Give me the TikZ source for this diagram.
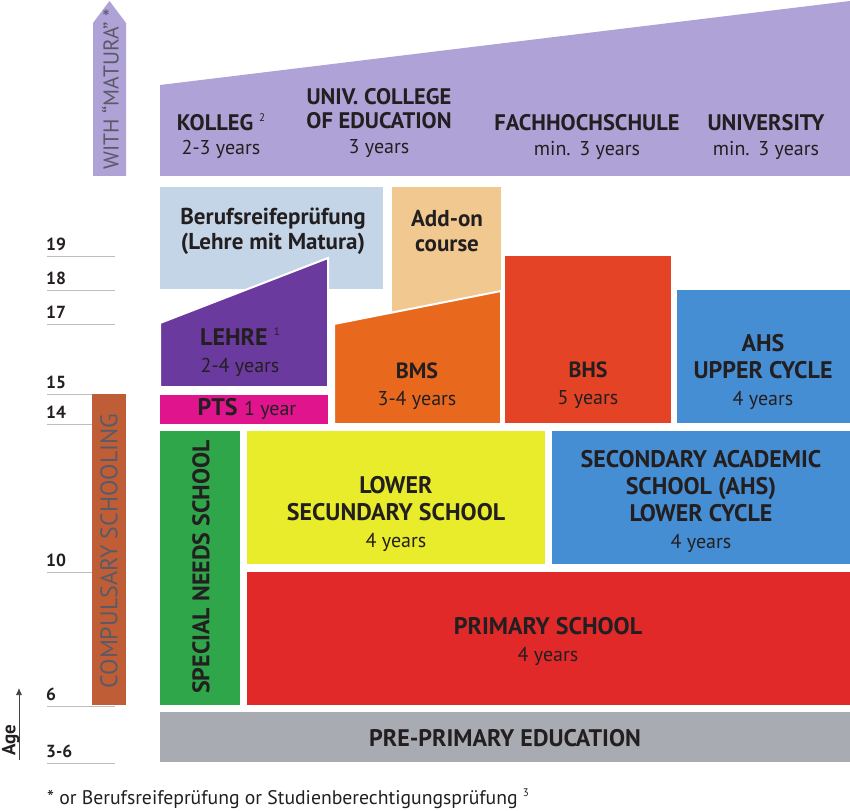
\documentclass[tikz,border=0pt]{standalone}
\usepackage{fontspec}
\setmainfont{PT Sans}
\usetikzlibrary{arrows.meta}
\definecolor{lav}{HTML}{AEA2D7}
\definecolor{lblue}{HTML}{C4D5E7}
\definecolor{addon}{HTML}{F1C88F}
\definecolor{purp}{HTML}{6B3A9E}
\definecolor{mag}{HTML}{E0158D}
\definecolor{orng}{HTML}{E8691E}
\definecolor{bhsred}{HTML}{E44326}
\definecolor{ahsblue}{HTML}{468ED4}
\definecolor{grn}{HTML}{2FA64A}
\definecolor{yel}{HTML}{E9EC2B}
\definecolor{pred}{HTML}{E1292A}
\definecolor{gry}{HTML}{A9ABB3}
\definecolor{comp}{HTML}{BF5E36}
\definecolor{txt}{HTML}{231F20}
\definecolor{rottxt}{HTML}{5A5A66}
\definecolor{tick}{HTML}{BDBDBD}
\newcommand{\hd}{\bfseries\fontsize{24}{27}\selectfont}
\newcommand{\hdt}{\bfseries\fontsize{22.5}{25}\selectfont}
\newcommand{\hdm}{\bfseries\fontsize{22}{26}\selectfont}
\newcommand{\lc}{\bfseries\fontsize{23}{25}\selectfont}
\newcommand{\yr}{\mdseries\fontsize{20}{26}\selectfont}
\newcommand{\supr}[1]{\raisebox{0.8ex}{\mdseries\fontsize{11}{11}\selectfont #1}}
\begin{document}
\begin{tikzpicture}[x=1pt,y=-1pt,
  lbl/.style={align=center,text=txt,inner sep=0pt,font=\fontsize{24}{27}\selectfont},
  lblt/.style={align=center,text=txt,inner sep=0pt,font=\fontsize{22.5}{24.5}\selectfont},
  rot/.style={rotate=90,inner sep=0pt},
  agel/.style={anchor=base west,inner sep=0pt,text=txt,font=\bfseries\fontsize{17.5}{18}\selectfont},
  tk/.style={draw=tick,line width=0.8pt},
  cut/.style={draw=white,line width=2pt}]
\useasboundingbox (0,0) rectangle (850,810);
% age ticks
\foreach \yy/\lab/\nm in {256/19/a19,290/18/a18,324/17/a17,394/15/a15,424/14/a14,572/10/a10,706/6/a6,763/3-6/a36}{
  \coordinate (t\nm) at (47,\yy);
  \coordinate (u\nm) at (115,\yy);
  \draw[tk] (t\nm) -- (u\nm);
  \node[agel] (l\nm) at (46,\yy-5.5) {\lab};
}
% Age arrow
\coordinate (agebot) at (19,760);
\coordinate (agetop) at (19,688);
\draw[draw=black!75,line width=0.7pt,-{Latex[length=7pt,width=6pt]}] (agebot) -- (agetop);
\node[rotate=90,anchor=base,inner sep=0pt,text=txt,font=\bfseries\fontsize{19}{20}\selectfont] (age) at (15.5,740) {Age};
% WITH MATURA arrow
\fill[lav] (93,176) -- (93,23) -- (109.5,1) -- (126,23) -- (126,176) -- cycle;
\node[rot,text=rottxt,font=\fontsize{21.5}{24}\selectfont] (matura) at (110.5,89) {WITH “MATURA” *};
% compulsory
\fill[comp] (92,394) rectangle (126,705);
\node[rot,text=rottxt,font=\fontsize{24}{26}\selectfont] (compul) at (109,551) {COMPULSARY SCHOOLING};
% higher education
\fill[lav] (160,176) -- (160,85) -- (850,1) -- (850,176) -- cycle;
\node[lblt] (kolleg) at (221,136) {{\hdt KOLLEG \supr{2}}\\{\yr 2-3 years}};
\node[lblt] (univcol) at (379,123) {{\hdt UNIV. COLLEGE}\\{\hdt OF EDUCATION}\\{\yr 3 years}};
\node[lblt] (fh) at (587,137) {{\hdt FACHHOCHSCHULE}\\{\yr min.\ \,3 years}};
\node[lblt] (uni) at (766,137) {{\hdt UNIVERSITY}\\{\yr min.\ \,3 years}};
% Berufsreife
\fill[lblue] (160,187) rectangle (383,289);
\node[lblt] (brp) at (273,231) {{\lc Berufsreifeprüfung}\\{\lc (Lehre mit Matura)}};
% Add-on
\fill[addon] (392,187) rectangle (501,312);
\node[lblt] (addon) at (447,231) {{\lc Add-on}\\{\lc course}};
% Lehre
\draw[cut,fill=purp] (160,387) -- (160,323) -- (328,258) -- (328,387) -- cycle;
\node[lbl] (lehre) at (240,352) {{\hd LEHRE \supr{1}}\\{\yr 2-4 years}};
% PTS
\fill[mag] (160,395) rectangle (328,424);
\node[lbl] (pts) at (247,409) {{\hd PTS} {\yr 1 year}};
% BMS
\draw[cut,fill=orng] (334,424) -- (334,324) -- (501,291) -- (501,424) -- cycle;
\node[lbl] (bms) at (417,386) {{\hdm BMS}\\{\yr 3-4 years}};
% BHS
\fill[bhsred] (505,256) rectangle (671,423);
\node[lbl] (bhs) at (588,385) {{\hdm BHS}\\{\yr 5 years}};
% AHS upper
\fill[ahsblue] (677,290) rectangle (850,423);
\node[lbl] (ahsu) at (763,372) {{\hd AHS}\\{\hd UPPER CYCLE}\\{\yr 4 years}};
% special needs
\fill[grn] (160,431) rectangle (240,705);
\node[rot,text=txt,font=\bfseries\fontsize{24}{26}\selectfont] (sns) at (201,567) {SPECIAL NEEDS SCHOOL};
% lower secondary
\fill[yel] (247,431) rectangle (545,564);
\node[lbl] (lss) at (396,514) {{\hd LOWER}\\{\hd SECUNDARY SCHOOL}\\{\yr 4 years}};
% AHS lower
\fill[ahsblue] (552,431) rectangle (850,564);
\node[lbl] (ahsl) at (701,501) {{\hd SECONDARY ACADEMIC}\\{\hd SCHOOL (AHS)}\\{\hd LOWER CYCLE}\\{\yr 4 years}};
% primary
\fill[pred] (247,572) rectangle (850,705);
\node[lbl] (prim) at (548,641) {{\hd PRIMARY SCHOOL}\\{\yr 4 years}};
% pre-primary
\fill[gry] (160,712) rectangle (850,762);
\node[lbl] (prep) at (505,738) {\hd PRE-PRIMARY EDUCATION};
% footnote
\node[anchor=base west,inner sep=0pt,text=txt,font=\fontsize{19.7}{21}\selectfont] (foot) at (47,804) {* or Berufsreifeprüfung or Studienberechtigungsprüfung \supr{3}};
\end{tikzpicture}
\end{document}
